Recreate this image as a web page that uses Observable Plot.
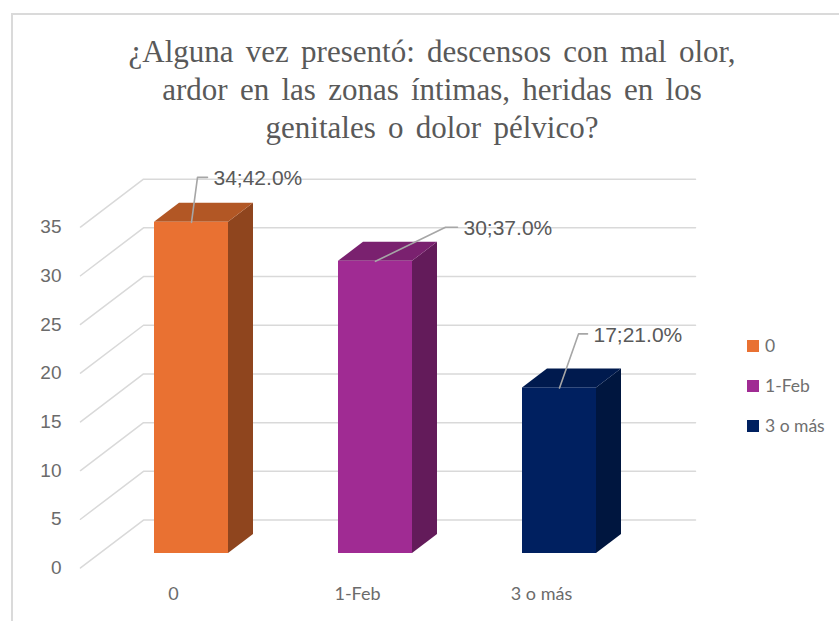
<!DOCTYPE html>
<html lang="es">
<head>
<meta charset="utf-8">
<script src="https://cdn.jsdelivr.net/npm/d3@7"></script>
<script src="https://cdn.jsdelivr.net/npm/@observablehq/plot@0.6"></script>
<style>
html,body{margin:0;padding:0;background:#fff;overflow:hidden}
#wrap{position:relative;width:839px;height:621px;overflow:hidden}
#frame{position:absolute;left:11px;top:13px;width:840px;height:620px;border:2px solid #dadada;box-sizing:border-box}
#title{position:absolute;left:12px;top:33px;width:840px;margin:0;text-align:center;font:400 31px/38px "Liberation Serif",serif;color:#595959;word-spacing:4.5px}
#legend{position:absolute;left:747px;top:336px;font:17.5px Lato,sans-serif;color:#6f6f6f}
#legend div{height:40px;display:flex;align-items:flex-start;white-space:nowrap;line-height:20px}
#legend i{display:inline-block;width:12px;height:12px;margin:4px 6px 0 0}
svg{position:absolute;left:0;top:0;background:transparent}
</style>
</head>
<body>
<div id="wrap">
  <div id="frame"></div>
  <div id="chart"></div>
  <h2 id="title">¿Alguna vez presentó: descensos con mal olor,<br>ardor en las zonas íntimas, heridas en los<br>genitales o dolor pélvico?</h2>
  <div id="legend"></div>
</div>
<script>
// Data
const categories = ["0", "1-Feb", "3 o más"];
const counts = [34, 30, 17];
const shares = ["42.0%", "37.0%", "21.0%"];
const yTicks = [0, 5, 10, 15, 20, 25, 30, 35];

// Styles
const frontColors = ["#E97132", "#A02B93", "#002060"];
const topColors = ["#B25725", "#7A216F", "#001A4E"];
const sideColors = ["#8F451E", "#631B5A", "#00163F"];

// Layout of the oblique projection, in pixels
const scaleX = {type: "linear", domain: [0, 3], range: [99, 651]};
const scaleY = {type: "linear", domain: [0, 35], range: [553, 212.1]};
const pxX = (scaleX.range[1] - scaleX.range[0]) / 3;
const pxY = (scaleY.range[0] - scaleY.range[1]) / 35;
const depthX = 25 / pxX, depthY = 19 / pxY;   // bar depth in data units
const barWidth = 74 / pxX;
const nearD = -0.76, farD = 1.76;             // floor edges, in bar depths
const leaderElbows = [[6, -45], [70, -34], [19, -54]];
const leaderEnds = [[16, -45], [82, -34], [28, -54]];

const bars = categories.map((c, i) => ({
  c, i, v: counts[i], share: shares[i],
  l: i + 0.5 - barWidth / 2, r: i + 0.5 + barWidth / 2,
  front: frontColors[i], top: topColors[i], side: sideColors[i]
}));

const grid = yTicks.flatMap(v => [
  {v, x: nearD * depthX, y: v + nearD * depthY},
  {v, x: farD * depthX, y: v + farD * depthY},
  {v, x: 3 + farD * depthX, y: v + farD * depthY}
]);

const sideFaces = bars.flatMap(b => [0, 1].map(d => ({
  fill: b.side, x: b.r + d * depthX, y1: d * depthY, y2: b.v + d * depthY
})));
const topFaces = bars.flatMap(b => [0, 1].map(d => ({
  fill: b.top, y: b.v + d * depthY, x1: b.l + d * depthX, x2: b.r + d * depthX
})));
const leaders = bars.flatMap((b, k) => [
  {k, x: b.i + 0.5, y: b.v},
  {k, x: b.i + 0.5 + leaderElbows[k][0] / pxX, y: b.v - leaderElbows[k][1] / pxY},
  {k, x: b.i + 0.5 + leaderEnds[k][0] / pxX, y: b.v - leaderEnds[k][1] / pxY}
]);
const labels = bars.map((b, k) => ({
  text: `${b.v};${b.share}`,
  x: b.i + 0.5 + leaderEnds[k][0] / pxX,
  y: b.v - leaderEnds[k][1] / pxY
}));

const plot = Plot.plot({
  width: 839, height: 621,
  marginTop: 0, marginRight: 0, marginBottom: 0, marginLeft: 0,
  x: {...scaleX, axis: null},
  y: {...scaleY, axis: null},
  color: {type: "identity"},
  style: {background: "transparent", overflow: "visible"},
  marks: [
    Plot.line(grid, {x: "x", y: "y", z: "v", stroke: "#d9d9d9", strokeWidth: 1.5, curve: "linear"}),
    Plot.areaY(sideFaces, {x: "x", y1: "y1", y2: "y2", fill: "fill"}),
    Plot.areaX(topFaces, {y: "y", x1: "x1", x2: "x2", fill: "fill"}),
    Plot.rect(bars, {x1: "l", x2: "r", y1: 0, y2: "v", fill: "front"}),
    Plot.line(leaders, {x: "x", y: "y", z: "k", stroke: "#a6a6a6", strokeWidth: 1.6, curve: "linear"}),
    Plot.text(labels, {x: "x", y: "y", text: "text", textAnchor: "start", dx: 6, dy: 1,
      fontFamily: "Liberation Sans", fontSize: 21, fill: "#595959"}),
    Plot.text(yTicks, {x: nearD * depthX, y: d => d + nearD * depthY, text: d => String(d),
      textAnchor: "end", dx: -19, fontFamily: "Liberation Sans", fontSize: 19, fill: "#6b6b6b"}),
    Plot.text(bars, {x: d => d.i + 0.5, y: 0, text: "c", dx: -18, dy: 41,
      fontFamily: "Lato", fontSize: 18, fill: "#6b6b6b"})
  ]
});
document.getElementById("chart").appendChild(plot);

const legend = document.getElementById("legend");
categories.forEach((c, i) => {
  const row = document.createElement("div");
  const swatch = document.createElement("i");
  swatch.style.background = frontColors[i];
  row.appendChild(swatch);
  row.appendChild(document.createTextNode(c));
  legend.appendChild(row);
});
</script>
</body>
</html>
